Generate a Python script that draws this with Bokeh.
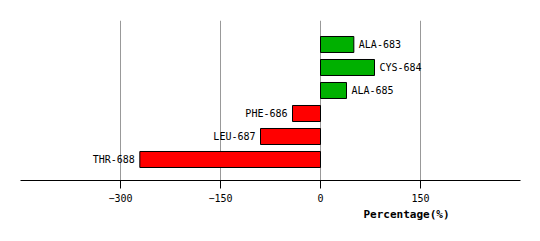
from bokeh.plotting import figure
from bokeh.models import ColumnDataSource, Range1d, FixedTicker, Title
from bokeh.core.properties import value
from bokeh.embed import file_html
from bokeh.resources import INLINE

residues = ["ALA-683", "CYS-684", "ALA-685", "PHE-686", "LEU-687", "THR-688"]
percent = [50, 81, 39, -42, -90, -271]
tick_values = [-300, -150, 0, 150]

idx = list(range(len(residues)))
colors = ["#00B000" if v >= 0 else "#FF0000" for v in percent]
src = ColumnDataSource(dict(y=idx, right=percent, color=colors, name=residues,
                            lx=percent,
                            align=["left" if v >= 0 else "right" for v in percent],
                            xo=[5 if v >= 0 else -5 for v in percent]))

p = figure(width=540, height=241, output_backend="svg", toolbar_location=None,
           x_range=Range1d(-450, 300), y_range=Range1d(5.913, -1.043),
           min_border_left=20, min_border_right=20, min_border_top=20, min_border_bottom=61)
p.outline_line_color = None
p.yaxis.visible = False
p.ygrid.visible = False

p.hbar(y="y", left=0, right="right", height=0.696, fill_color="color",
       line_color="black", line_width=1, source=src)
p.text(x="lx", y="y", text="name", x_offset="xo", text_align="align",
       text_baseline="middle", text_font=value("DejaVu Sans Mono"),
       text_font_size="10px", text_color="black", source=src)

ax = p.xaxis[0]
ax.ticker = FixedTicker(ticks=tick_values)
ax.axis_line_color = "black"
ax.axis_line_width = 1
ax.major_tick_out = 8
ax.major_tick_in = 0
ax.minor_tick_line_color = None
ax.major_label_text_font = "DejaVu Sans Mono"
ax.major_label_text_font_size = "10px"
ax.major_label_text_color = "black"
ax.major_label_standoff = 5

p.xgrid.ticker = FixedTicker(ticks=tick_values)
p.xgrid.grid_line_color = "#999999"
p.xgrid.grid_line_width = 1

p.add_layout(Title(text="Percentage(%)", align="left", offset=343, standoff=2,
                   text_font="DejaVu Sans Mono", text_font_size="11px",
                   text_font_style="bold", text_color="black"), "below")

open("out.html", "w").write(file_html(p, INLINE))
